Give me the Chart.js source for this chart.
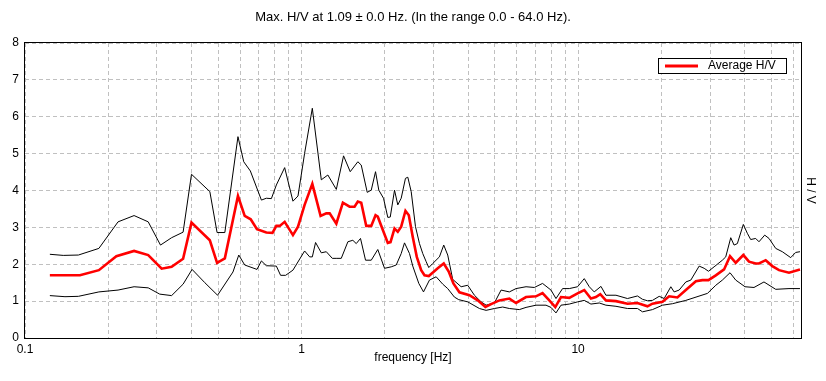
<!DOCTYPE html>
<html><head><meta charset="utf-8">
<script src="https://cdn.jsdelivr.net/npm/chart.js@4.4.1/dist/chart.umd.min.js"></script>
<style>html,body{margin:0;padding:0;background:#fff;}#wrap{width:826px;height:381px;}</style>
</head><body><div id="wrap"><canvas id="c" width="826" height="381"></canvas></div>
<script>
const titleText = 'Max. H/V at 1.09 \u00b1 0.0 Hz. (In the range 0.0 - 64.0 Hz).';
const xAxisTitle = 'frequency [Hz]';
const yAxisTitle = 'H / V';
const legendLabel = 'Average H/V';
const xGridValues = [0.1,0.2,0.3,0.4,0.5,0.6,0.7,0.8,0.9,1,2,3,4,5,6,7,8,9,10,20,30,40,50,60];
const xTickLabels = ['0.1','1','10'];
const yTickValues = [0,1,2,3,4,5,6,7,8];

// [frequency Hz, H/V]
const averageHV = [[0.123,1.70],[0.158,1.70],[0.185,1.84],[0.214,2.22],[0.248,2.36],[0.279,2.25],[0.312,1.88],[0.339,1.93],[0.373,2.15],[0.400,3.13],[0.466,2.65],[0.495,2.04],[0.528,2.16],[0.589,3.85],[0.623,3.31],[0.655,3.22],[0.690,2.95],[0.746,2.86],[0.785,2.85],[0.811,3.04],[0.834,3.04],[0.869,3.15],[0.931,2.79],[0.971,3.02],[1.026,3.61],[1.094,4.18],[1.172,3.31],[1.229,3.38],[1.264,3.38],[1.336,3.10],[1.411,3.67],[1.492,3.56],[1.555,3.56],[1.598,3.70],[1.644,3.67],[1.714,3.04],[1.787,3.04],[1.852,3.33],[1.887,3.29],[1.968,2.93],[2.051,2.58],[2.098,2.60],[2.169,2.97],[2.229,2.88],[2.293,3.02],[2.376,3.45],[2.443,3.33],[2.525,2.74],[2.611,2.20],[2.708,1.84],[2.784,1.70],[2.885,1.68],[3.000,1.79],[3.108,1.89],[3.268,2.02],[3.406,1.80],[3.541,1.48],[3.724,1.24],[4.047,1.16],[4.336,1.02],[4.623,0.84],[4.847,0.92],[5.193,1.02],[5.643,1.07],[5.966,0.95],[6.484,1.11],[7.045,1.13],[7.440,1.22],[7.870,1.02],[8.273,0.84],[8.675,1.11],[9.295,1.09],[9.959,1.21],[10.53,1.30],[11.13,1.07],[11.60,1.11],[12.03,1.19],[12.61,1.02],[13.71,1.00],[15.09,0.93],[16.40,0.95],[17.82,0.86],[18.58,0.93],[20.20,0.98],[21.35,1.13],[22.87,1.10],[24.53,1.30],[26.67,1.54],[28.17,1.57],[29.62,1.57],[31.48,1.70],[33.73,1.86],[35.44,2.22],[37.17,2.04],[39.59,2.25],[41.51,2.07],[43.88,2.02],[45.11,2.02],[47.70,2.11],[50.41,1.95],[53.29,1.84],[57.91,1.77],[63.46,1.86]];
const upperHV = [[0.123,2.27],[0.1375,2.24],[0.156,2.25],[0.185,2.43],[0.217,3.15],[0.248,3.32],[0.279,3.15],[0.309,2.52],[0.339,2.72],[0.373,2.87],[0.400,4.44],[0.466,3.97],[0.495,2.86],[0.528,2.86],[0.589,5.46],[0.618,4.78],[0.653,4.53],[0.716,3.74],[0.746,3.79],[0.778,3.78],[0.811,4.15],[0.869,4.62],[0.931,3.71],[0.971,3.85],[1.026,5.01],[1.094,6.23],[1.179,4.29],[1.245,4.42],[1.336,4.03],[1.419,4.94],[1.500,4.51],[1.598,4.78],[1.644,4.69],[1.728,3.95],[1.787,4.01],[1.852,4.51],[1.903,4.01],[1.979,3.79],[2.051,3.27],[2.093,3.28],[2.169,4.01],[2.229,3.61],[2.293,3.79],[2.376,4.33],[2.423,4.36],[2.492,3.97],[2.583,3.02],[2.670,2.56],[2.744,2.29],[2.823,2.07],[2.885,1.91],[2.982,2.02],[3.152,2.20],[3.268,2.52],[3.378,2.25],[3.521,1.59],[3.777,1.39],[3.990,1.43],[4.218,1.16],[4.460,0.98],[4.650,0.89],[4.982,0.95],[5.268,1.30],[5.643,1.25],[5.966,1.34],[6.484,1.39],[6.947,1.37],[7.440,1.48],[7.981,1.30],[8.321,1.07],[8.790,1.34],[9.295,1.34],[9.959,1.39],[10.53,1.61],[10.98,1.39],[11.44,1.25],[12.10,1.40],[12.61,1.16],[13.71,1.16],[15.09,1.07],[16.40,1.14],[17.10,1.05],[17.82,1.01],[18.58,1.02],[19.65,1.13],[20.48,1.07],[21.65,1.39],[22.25,1.25],[23.20,1.30],[24.53,1.52],[25.57,1.57],[27.41,1.95],[28.58,1.89],[29.62,1.81],[31.04,1.93],[33.25,2.11],[34.20,2.20],[35.66,2.72],[36.65,2.52],[37.67,2.56],[39.59,3.08],[40.93,2.84],[42.10,2.67],[43.88,2.70],[45.11,2.61],[47.31,2.79],[49.03,2.70],[51.85,2.43],[54.78,2.34],[58.74,2.18],[61.23,2.32],[63.46,2.34]];
const lowerHV = [[0.123,1.15],[0.1395,1.12],[0.156,1.13],[0.185,1.25],[0.217,1.30],[0.248,1.39],[0.279,1.36],[0.307,1.19],[0.339,1.15],[0.373,1.46],[0.402,1.86],[0.447,1.50],[0.497,1.16],[0.565,1.79],[0.593,2.25],[0.623,1.98],[0.690,1.86],[0.716,2.09],[0.746,1.96],[0.811,1.95],[0.840,1.70],[0.876,1.70],[0.931,1.84],[1.026,2.36],[1.070,2.20],[1.094,2.20],[1.124,2.59],[1.179,2.31],[1.229,2.34],[1.292,2.16],[1.342,2.16],[1.392,2.16],[1.471,2.61],[1.533,2.65],[1.577,2.56],[1.634,2.70],[1.704,2.11],[1.787,2.11],[1.887,2.40],[1.996,1.89],[2.110,1.93],[2.200,1.98],[2.293,2.29],[2.357,2.58],[2.457,2.29],[2.525,1.95],[2.655,1.48],[2.761,1.25],[2.901,1.57],[3.068,1.66],[3.241,1.46],[3.378,1.34],[3.571,1.11],[3.701,1.04],[3.990,0.98],[4.398,0.80],[4.650,0.75],[4.982,0.80],[5.338,0.84],[5.643,0.80],[6.132,0.77],[6.484,0.83],[7.045,0.89],[7.656,0.89],[7.981,0.83],[8.321,0.68],[8.675,0.89],[9.295,0.92],[9.959,0.98],[10.53,1.02],[11.13,0.92],[11.93,0.95],[12.61,0.89],[13.71,0.86],[15.09,0.80],[16.40,0.80],[17.10,0.71],[18.58,0.77],[20.20,0.89],[21.94,0.93],[24.53,1.02],[29.37,1.21],[31.48,1.43],[33.25,1.57],[35.44,1.77],[37.17,1.57],[40.15,1.39],[43.27,1.37],[47.02,1.52],[51.85,1.32],[57.91,1.34],[63.46,1.34]];

const FONT = {family: "'Liberation Sans', Arial, sans-serif", size: 12};
Chart.defaults.font.family = FONT.family;
Chart.defaults.font.size = FONT.size;
Chart.defaults.color = '#000';

const toPoints = arr => arr.map(p => ({x: p[0], y: p[1]}));
const GRID = '#c0c0c0';

const framePlugin = {
  id: 'frame',
  afterDraw(chart) {
    const {ctx, chartArea: a} = chart;
    ctx.save();
    ctx.strokeStyle = '#000';
    ctx.lineWidth = 1;
    ctx.strokeRect(Math.round(a.left) - 0.5, Math.round(a.top) - 0.5, Math.round(a.right - a.left) + 1, Math.round(a.bottom - a.top) + 1);
    // legend box
    const lx = 658, ly = 58, lw = 128, lh = 15;
    ctx.fillStyle = '#fff';
    ctx.fillRect(lx, ly, lw, lh);
    ctx.strokeRect(lx + 0.5, ly + 0.5, lw, lh);
    ctx.strokeStyle = '#ff0000';
    ctx.lineWidth = 3;
    ctx.beginPath();
    ctx.moveTo(665, ly + 8);
    ctx.lineTo(698, ly + 8);
    ctx.stroke();
    ctx.fillStyle = '#000';
    ctx.font = "12px 'Liberation Sans', Arial, sans-serif";
    ctx.textBaseline = 'middle';
    ctx.textAlign = 'left';
    ctx.fillText(legendLabel, 708, ly + 8);
    ctx.restore();
  }
};

new Chart(document.getElementById('c'), {
  type: 'line',
  data: {
    datasets: [
      {label: legendLabel, data: toPoints(averageHV), borderColor: '#ff0000', borderWidth: 2.6, pointRadius: 0, tension: 0, fill: false},
      {label: 'upper', data: toPoints(upperHV), borderColor: '#000', borderWidth: 1, pointRadius: 0, tension: 0, fill: false},
      {label: 'lower', data: toPoints(lowerHV), borderColor: '#000', borderWidth: 1, pointRadius: 0, tension: 0, fill: false}
    ]
  },
  options: {
    responsive: false,
    animation: false,
    devicePixelRatio: 1,
    layout: {padding: 0},
    plugins: {
      legend: {display: false},
      tooltip: {enabled: false},
      title: {display: true, text: titleText, color: '#000', font: {size: 13, weight: 'normal'}, padding: {top: 10, bottom: 17.4}}
    },
    scales: {
      x: {
        type: 'logarithmic', min: 0.1, max: 64,
        afterBuildTicks: s => { s.ticks = xGridValues.map(v => ({value: v})); },
        ticks: {autoSkip: false, maxRotation: 0, padding: 4, color: '#000',
          callback: v => { const i = [0.1, 1, 10].indexOf(v); return i >= 0 ? xTickLabels[i] : ''; }},
        grid: {color: GRID, drawTicks: false, lineWidth: 1},
        border: {display: false, dash: [4, 3]},
        title: {display: true, text: xAxisTitle, color: '#000', padding: {top: 0, bottom: 16}},
        afterFit: s => { s.height = 43; }
      },
      y: {
        type: 'linear', min: 0, max: 8, position: 'left',
        afterBuildTicks: s => { s.ticks = yTickValues.map(v => ({value: v})); },
        ticks: {padding: 6, color: '#000'},
        grid: {color: GRID, drawTicks: false, lineWidth: 1},
        border: {display: false, dash: [4, 3]},
        afterFit: s => { s.width = 25; }
      },
      yR: {
        type: 'linear', min: 0, max: 8, position: 'right',
        ticks: {display: false},
        grid: {display: false, drawTicks: false},
        border: {display: false},
        title: {display: true, text: yAxisTitle, color: '#000', padding: {top: 8, bottom: 0}},
        afterFit: s => { s.width = 25; }
      }
    }
  },
  plugins: [framePlugin]
});
</script></body></html>
